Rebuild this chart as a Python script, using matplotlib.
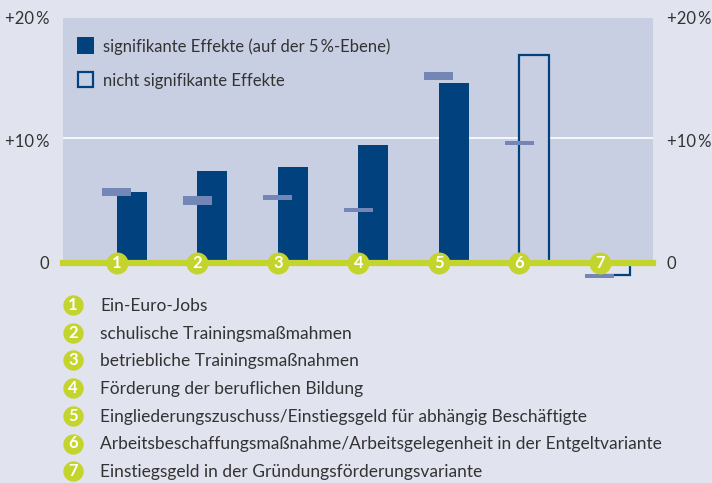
import matplotlib
matplotlib.use("Agg")
import matplotlib.pyplot as plt

plt.rcParams['font.family'] = ['Lato', 'DejaVu Sans']

# Daten (Effekte in Prozentpunkten)
nummern = [1, 2, 3, 4, 5, 6, 7]
effekte = [5.8, 7.5, 7.8, 9.6, 14.7, 17.0, -1.05]
signifikant = [True, True, True, True, True, False, False]
# Vergleichswerte (helle Balken): unterer / oberer Rand
vergl_lo = [5.4, 4.7, 5.15, 4.1, 14.9, 9.6, -1.25]
vergl_hi = [6.1, 5.4, 5.5, 4.45, 15.6, 9.95, -0.95]
massnahmen = [
    "Ein-Euro-Jobs",
    "schulische Trainingsmaßmahmen",
    "betriebliche Trainingsmaßnahmen",
    "Förderung der beruflichen Bildung",
    "Eingliederungszuschuss/Einstiegsgeld für abhängig Beschäftigte",
    "Arbeitsbeschaffungsmaßnahme/Arbeitsgelegenheit in der Entgeltvariante",
    "Einstiegsgeld in der Gründungsförderungsvariante",
]
yticks = [0, 10, 20]
ylabels = ["0", "+10\u2009%", "+20\u2009%"]

# Farben
BG = "#e1e3ef"
PLOT_BG = "#c9cfe3"
BLAU = "#00417e"
HELL = "#7486b6"
GRUEN = "#c3d52c"
TEXT = "#333333"

W, H = 712, 483
fig = plt.figure(figsize=(W / 100, H / 100), dpi=100, facecolor=BG)

def px(x0, y0, x1, y1):
    return [x0 / W, 1 - y1 / H, (x1 - x0) / W, (y1 - y0) / H]

ax = fig.add_axes(px(63, 18, 653, 262.5))
ax.set_facecolor(PLOT_BG)
ax.set_xlim(0.33, 7.66)
ax.set_ylim(0, 20)
for s in ax.spines.values():
    s.set_visible(False)
ax.axhline(10.2, color="white", lw=1.2, zorder=1)

bw = 0.37
for n, e, sig in zip(nummern, effekte, signifikant):
    if sig:
        ax.bar(n, e, width=bw, align="edge", color=BLAU, zorder=2, clip_on=False)
    else:
        ax.bar(n, e, width=bw, align="edge", facecolor=PLOT_BG if e > 0 else BG,
               edgecolor=BLAU, lw=1.6, zorder=2, clip_on=False)

mw = 0.36
for n, lo, hi in zip(nummern, vergl_lo, vergl_hi):
    ax.bar(n, hi - lo, bottom=lo, width=mw, color=HELL, zorder=3, clip_on=False)

ax.axhline(0, color=GRUEN, lw=4.5, zorder=4, clip_on=False)
ax.scatter(nummern, [0] * len(nummern), s=250, color=GRUEN, zorder=5, clip_on=False,
           linewidths=0)
for n in nummern:
    ax.text(n, -0.05, str(n), color="white", fontsize=12, fontweight="bold",
            ha="center", va="center", zorder=6, clip_on=False)

ax.set_xticks([])
ax.set_yticks(yticks)
ax.set_yticklabels(ylabels)
ax.tick_params(axis="y", length=0, pad=10, labelsize=12, labelcolor=TEXT)
ax2 = ax.twinx()
ax2.set_ylim(0, 20)
ax2.set_yticks(yticks)
ax2.set_yticklabels(ylabels)
ax2.tick_params(axis="y", length=0, pad=10, labelsize=12, labelcolor=TEXT)
for s in ax2.spines.values():
    s.set_visible(False)

# Overlay in Pixelkoordinaten fuer Legende und Liste
ov = fig.add_axes([0, 0, 1, 1], zorder=10)
ov.set_xlim(0, W)
ov.set_ylim(H, 0)
ov.axis("off")
ov.patch.set_alpha(0)

ov.add_patch(plt.Rectangle((77, 37), 17, 17, facecolor=BLAU, edgecolor="none"))
ov.add_patch(plt.Rectangle((78, 72), 15, 15, facecolor=PLOT_BG, edgecolor=BLAU, lw=1.6))
ov.text(103, 47, "signifikante Effekte (auf der 5\u2009%-Ebene)",
        fontsize=12, color=TEXT, va="center")
ov.text(103, 81, "nicht signifikante Effekte",
        fontsize=12, color=TEXT, va="center")

for i, (n, name) in enumerate(zip(nummern, massnahmen)):
    y = 305 + i * 27.7
    ov.scatter([73], [y], s=215, color=GRUEN, linewidths=0)
    ov.text(73, y, str(n), color="white", fontsize=12, fontweight="bold",
            ha="center", va="center")
    ov.text(100, y + 1, name, fontsize=12.5, color=TEXT, va="center")

fig.savefig("out.png", dpi=100, facecolor=BG)
